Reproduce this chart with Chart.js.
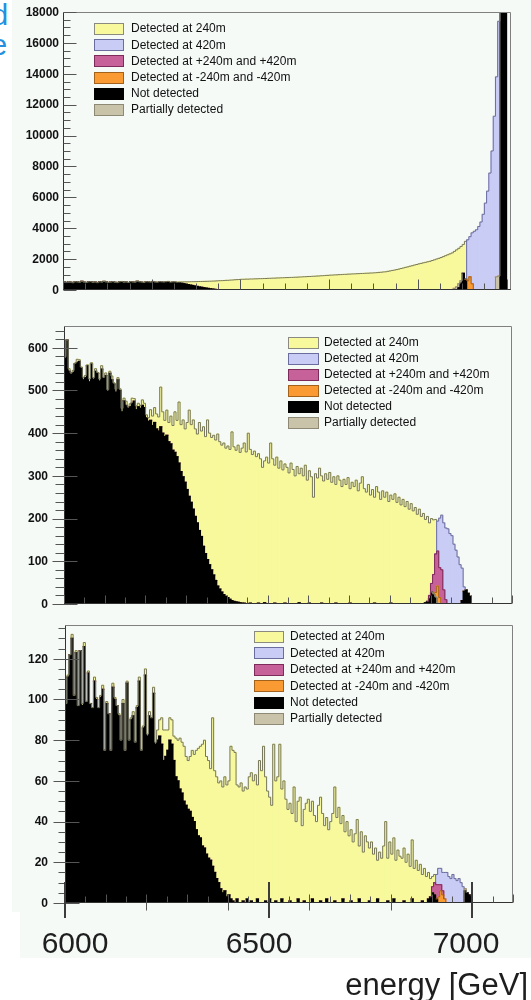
<!DOCTYPE html>
<html>
<head>
<meta charset="utf-8">
<script src="https://cdn.jsdelivr.net/npm/chart.js@4.4.1/dist/chart.umd.min.js"></script>
<style>
  html, body { margin: 0; padding: 0; background: #ffffff; }
  #page { position: relative; width: 531px; height: 1000px; overflow: hidden;
          font-family: "Liberation Sans", Arial, Helvetica, sans-serif; }
  .pad { position: absolute; background: #f5faf7; }
  .cut { position: absolute; overflow: hidden; color: #2590e0; font-size: 29px; line-height: 30px; }
  .cut span { position: absolute; top: 0; }
  canvas { position: absolute; left: 0; }
</style>
</head>
<body>
<div id="page">
  <div class="pad" style="left:12px; top:0; width:519px; height:912px;"></div>
  <div class="pad" style="left:20px; top:912px; width:511px; height:46px;"></div>
  <div class="cut" style="left:0; top:0; width:9px; height:30px;"><span style="left:-8px;">d</span></div>
  <div class="cut" style="left:0; top:30px; width:9px; height:30px;"><span style="left:-9px;">e</span></div>
  <canvas id="panelTop" width="531" height="300" style="top:0;"></canvas>
  <canvas id="panelMid" width="531" height="315" style="top:300px;"></canvas>
  <canvas id="panelLow" width="531" height="385" style="top:615px;"></canvas>
</div>
<script>
// ---------------- series (legend order) ----------------
const seriesLabels = ['Detected at 240m', 'Detected at 420m', 'Detected at +240m and +420m',
                      'Detected at -240m and -420m', 'Not detected', 'Partially detected'];
const fillColours = ['#f7f99c', '#c9ccf5', '#c7619a', '#f99a33', '#000000', '#c9c4a9'];
const lineColours = ['#77775f', '#6b6d9e', '#7d2b5a', '#a3621c', '#000000', '#8d8975'];
const stackOrder = [4, 5, 3, 2, 1, 0];   // bottom of the stack first
const BIN = 5;                          // GeV per bin

// ---------------- top panel: counts per 5 GeV bin ----------------
const p1NotDetected = [
  520, 480, 545, 500, 470, 530, 510, 495, 560, 505,
  480, 520, 540, 490, 510, 470, 525, 500, 555, 515,
  485, 505, 530, 495, 475, 520, 545, 500, 510, 480,
  530, 505, 490, 560, 515, 500, 470, 525, 510, 495,
  540, 500, 480, 520, 505, 490, 515, 530, 480, 500,
  495, 470, 470, 440, 410, 380, 350, 320, 290, 260,
  230, 200, 175, 150, 125, 100, 80, 60, 40, 25,
  10];
const p1NotDetectedPeak = [150, 450, 1080, 700];      // from 6890 GeV
const p1NotDetectedBeam = [20000, 20000, 20000];      // from 6985 GeV
const p1Det240 = [
  3, 0, 5, 2, 0, 4, 6, 0, 3, 5,
  2, 4, 0, 6, 3, 5, 2, 7, 4, 3,
  6, 2, 8, 5, 4, 6, 9, 3, 7, 5,
  10, 8, 12, 6, 14, 10, 16, 12, 18, 15,
  20, 17, 22, 19, 24, 26, 22, 28, 30, 27,
  34, 40, 50, 82, 115, 148, 180, 215, 248, 280,
  315, 350, 378, 406, 435, 465, 490, 516, 542, 565,
  590, 606, 612, 625, 628, 642, 648, 662, 670, 678,
  692, 694, 703, 702, 714, 713, 722, 724, 733, 734,
  742, 745, 754, 757, 766, 768, 778, 781, 790, 793,
  802, 805, 814, 816, 826, 829, 840, 844, 856, 860,
  872, 876, 888, 892, 904, 908, 922, 928, 942, 948,
  962, 966, 978, 982, 994, 998, 1010, 1014, 1026, 1030,
  1042, 1045, 1056, 1059, 1070, 1073, 1084, 1087, 1098, 1101,
  1112, 1122, 1140, 1150, 1168, 1178, 1210, 1234, 1266, 1290,
  1322, 1354, 1394, 1426, 1466, 1498, 1540, 1574, 1616, 1650,
  1692, 1722, 1760, 1790, 1828, 1858, 1910, 1954, 2006, 2050,
  2102, 2160, 2220, 2280, 2340, 2400, 2400, 2400, 2300, 2220,
  1870, 2450];
const p1Det420 = [2650, 2600, 3300, 3800, 3900, 4110, 4400, 4900, 5625, 6400,
                  7570, 9000, 11250, 12950, 16500];   // from 6910 GeV
const p1NegBoth = [600, 850, 400];                    // from 6910 GeV
const p1PartialLow = [100, 200, 250, 150];            // from 6880 GeV
const p1PartialHigh = [850, 900];                     // from 6975 GeV
const p1YTicks = [0, 2000, 4000, 6000, 8000, 10000, 12000, 14000, 16000, 18000];

// ---------------- middle panel ----------------
const p2NotDetected = [
  575, 618, 545, 538, 542, 562, 565, 568, 552, 525,
  530, 558, 520, 562, 526, 545, 540, 522, 550, 528,
  535, 498, 540, 525, 515, 496, 525, 500, 450, 476,
  465, 458, 462, 470, 475, 455, 462, 458, 465, 460,
  436, 428, 430, 418, 425, 410, 405, 415, 400, 392,
  395, 380, 375, 360, 355, 345, 330, 310, 298, 285,
  268, 252, 238, 222, 205, 190, 172, 158, 135, 118,
  104, 92, 80, 68, 55, 42, 35, 28, 22, 18,
  15, 11, 8, 6, 5, 4, 3, 2, 2, 1,
  0, 2, 0, 0, 0, 2, 0, 0, 3, 0,
  0, 0, 0, 2, 0, 0, 0, 0, 2, 0,
  0, 0, 0, 0, 0, 3, 0, 0, 0, 0,
  2, 0, 0, 0, 0, 0, 2, 0, 0, 0,
  0, 0, 0, 2, 0, 0, 0, 0, 0, 0,
  2, 0, 0, 0, 0, 0, 0, 0, 0, 0,
  0, 0, 2, 0, 0, 0, 0, 0, 0, 0,
  2, 0, 0, 0, 0, 0, 0, 0, 0, 0,
  0, 0, 0, 0, 0, 0, 0, 3, 6, 12,
  28, 22, 14, 0, 0, 0, 0, 0, 0, 0,
  0, 0, 0, 0, 0, 8, 30, 33, 25, 18];
const p2Det240 = [
  4, 0, 6, 3, 5, 2, 8, 4, 3, 6,
  5, 2, 7, 3, 4, 6, 2, 5, 8, 3,
  6, 4, 5, 9, 3, 7, 5, 4, 8, 6,
  10, 5, 7, 12, 6, 9, 8, 7, 13, 10,
  7, 8, 25, 22, 35, 35, 33, 93, 50, 38,
  59, 45, 65, 58, 95, 85, 143, 110, 133, 125,
  157, 202, 182, 209, 205, 208, 253, 247, 280, 274,
  327, 308, 310, 327, 329, 356, 345, 344, 355, 347,
  355, 351, 395, 362, 355, 368, 352, 363, 375, 355,
  400, 360, 350, 358, 345, 350, 340, 320, 332, 344,
  330, 377, 340, 323, 344, 318, 335, 314, 326, 320,
  307, 330, 315, 300, 322, 302, 318, 300, 325, 290,
  310, 298, 250, 305, 295, 318, 298, 288, 305, 292,
  308, 285, 298, 278, 300, 290, 275, 292, 280, 296,
  268, 285, 275, 290, 265, 283, 298, 270, 262, 280,
  255, 268, 248, 275, 262, 245, 265, 250, 262, 240,
  253, 245, 258, 238, 250, 232, 245, 228, 240, 222,
  235, 218, 226, 210, 222, 205, 212, 195, 199, 170,
  152, 128, 81];
const p2PosBoth = [8, 20, 45, 90, 82, 70, 80, 33, 10];                 // from 6895 GeV
const p2NegBoth = [10, 40, 15];                                        // from 6910 GeV
const p2Det420 = [70, 116, 128, 157, 168, 176, 165, 160, 140, 126, 110, 92, 76, 10]; // from 6915 GeV
const p2Partial = [2, 3, 2];                                           // from 6905 GeV
const p2YTicks = [0, 100, 200, 300, 400, 500, 600];

// ---------------- bottom panel ----------------
const p3NotDetected = [
  98, 111, 122, 130, 102, 123, 97, 124, 97, 126,
  99, 113, 98, 96, 109, 100, 96, 101, 105, 75,
  98, 93, 75, 106, 100, 97, 92, 80, 98, 75,
  108, 80, 90, 92, 79, 96, 109, 75, 86, 112,
  82, 92, 91, 103, 78, 80, 82, 78, 70, 72,
  75, 80, 78, 70, 62, 60, 56, 54, 50, 48,
  46, 45, 42, 40, 36, 33, 32, 28, 27, 24,
  22, 21, 18, 15, 12, 10, 7, 5, 6, 3,
  4, 2, 1, 0, 2, 0, 0, 1, 0, 2,
  0, 1, 0, 0, 2, 0, 0, 0, 1, 0,
  2, 0, 0, 1, 0, 0, 2, 0, 0, 0,
  1, 0, 0, 0, 2, 0, 0, 1, 0, 0,
  0, 2, 0, 0, 0, 1, 0, 0, 2, 0,
  0, 0, 1, 0, 0, 0, 2, 0, 0, 0,
  1, 0, 0, 0, 2, 0, 0, 0, 0, 1,
  0, 0, 0, 2, 0, 0, 0, 0, 1, 0,
  0, 2, 0, 0, 0, 0, 1, 0, 0, 0,
  2, 0, 0, 0, 0, 1, 0, 0, 2, 3,
  5, 4, 2, 0, 0, 0, 0, 0, 0, 0,
  0, 0, 0, 0, 0, 0, 6, 5, 4, 3];
const p3Det240 = [
  0, 1, 0, 2, 0, 1, 0, 0, 1, 2,
  0, 1, 0, 0, 2, 1, 0, 1, 2, 0,
  1, 0, 0, 2, 1, 0, 1, 0, 2, 0,
  1, 0, 1, 2, 0, 1, 2, 0, 1, 3,
  1, 2, 0, 3, 1, 5, 8, 13, 15, 13,
  10, 11, 12, 12, 19, 20, 25, 25, 27, 24,
  24, 27, 33, 33, 39, 43, 45, 50, 53, 48,
  48, 45, 73, 50, 50, 49, 53, 52, 56, 55,
  56, 75, 74, 74, 56, 57, 59, 54, 57, 54,
  62, 63, 60, 63, 56, 70, 65, 77, 61, 55,
  50, 48, 78, 59, 62, 78, 54, 60, 51, 46,
  48, 44, 57, 40, 48, 52, 38, 45, 49, 51,
  45, 48, 43, 40, 48, 51, 44, 38, 40, 36,
  40, 44, 56, 42, 47, 39, 41, 35, 40, 33,
  35, 30, 34, 41, 26, 35, 25, 33, 30, 26,
  30, 24, 27, 19, 25, 22, 28, 40, 21, 30,
  24, 30, 21, 26, 23, 22, 26, 20, 24, 18,
  29, 17, 21, 16, 19, 13, 17, 13, 13, 9,
  5, 4];
const p3PosBoth = [3, 6, 7, 6, 3, 2];                                  // from 6900 GeV
const p3NegBoth = [3, 6, 4, 2];                                        // from 6915 GeV
const p3Det420 = [5, 8, 8, 9, 13, 15, 13, 12, 14, 12, 11, 12, 10, 8];  // from 6910 GeV
const p3Partial = [1];                                                 // from 6980 GeV
const p3YTicks = [0, 20, 40, 60, 80, 100, 120];

// slide axis under the lower panel
const energyTicks = [6000, 6500, 7000];
const energyTickLabels = ['6000', '6500', '7000'];
const energyTitle = 'energy [GeV]';

// ---------------- building the stacked histograms ----------------
function histogram(lo, hi, series) {
  const n = Math.round((hi - lo) / BIN);
  const counts = series.map(segments => {
    const a = new Array(n).fill(0);
    segments.forEach(([from, values]) => values.forEach((v, k) => {
      const i = Math.round((from - lo) / BIN) + k;
      if (i >= 0 && i < n) a[i] = v;
    }));
    return a;
  });
  const centres = counts[0].map((_, i) => lo + (i + 0.5) * BIN);
  const edges = counts[0].map((_, i) => lo + i * BIN).concat([hi]);
  const outlines = [];
  const bars = [];
  let running = new Array(n).fill(0);
  stackOrder.forEach(s => {
    running = running.map((r, i) => r + counts[s][i]);
    const top = running;
    const own = counts[s];
    // a layer's outline is traced only where the layer itself has entries
    if (s !== 4) {
      outlines.push({
        type: 'line', yAxisID: 'yLine', label: seriesLabels[s] + ' outline',
        data: edges.map((x, i) => {
          const j = Math.min(i, n - 1);
          const near = own[j] > 0 || (i > 0 && own[i - 1] > 0) || (i + 1 < n && own[i + 1] > 0);
          return { x, y: near ? top[j] : null };
        }),
        stepped: 'before', spanGaps: false, borderColor: lineColours[s], borderWidth: 1,
        pointRadius: 0, fill: false
      });
    }
    bars.push({
      type: 'bar', yAxisID: 'y', label: seriesLabels[s], stack: 'all',
      data: centres.map((x, i) => ({ x, y: counts[s][i] })),
      backgroundColor: fillColours[s], borderWidth: 0,
      barPercentage: 1, categoryPercentage: 1, inflateAmount: 0.6
    });
  });
  // outlines first so they are painted over the fills; lowest layer's outline on top
  return outlines.concat(bars);
}

// ROOT-like frame: axes, tick marks, tick labels, legend
const rootFrame = {
  id: 'rootFrame',
  afterDatasetsDraw(chart, _args, o) {
    const { ctx, chartArea: a } = chart;
    const xs = chart.scales.x, ys = chart.scales.y;
    const L = Math.round(a.left) + 0.5, R = Math.round(a.right) - 0.5;
    const T = Math.round(a.top) + 0.5, B = Math.round(a.bottom) - 0.5;
    ctx.save();
    ctx.lineWidth = 1;
    ctx.strokeStyle = o.frameColour;
    ctx.beginPath(); ctx.moveTo(L, T); ctx.lineTo(R, T); ctx.lineTo(R, B); ctx.stroke();
    ctx.strokeStyle = o.axisColour;
    ctx.beginPath(); ctx.moveTo(L, T); ctx.lineTo(L, B); ctx.lineTo(R, B); ctx.stroke();

    // x ticks
    ctx.beginPath();
    for (let v = xs.min; v <= xs.max; v += o.xMinorStep) {
      const px = Math.round(xs.getPixelForValue(v)) + 0.5;
      const major = v % o.xMajorStep === 0;
      ctx.moveTo(px, B); ctx.lineTo(px, B - (major ? o.xMajorUp : o.xMinorUp));
      if (o.xDownStep && v % o.xDownStep === 0) { ctx.moveTo(px, B); ctx.lineTo(px, B + o.xDownLen); }
    }
    // y ticks
    for (let v = 0; v <= ys.max; v += o.yMinorStep) {
      const py = Math.round(ys.getPixelForValue(v)) + 0.5;
      const major = o.yTicks.includes(v);
      if (o.yInside) {
        ctx.moveTo(L, py); ctx.lineTo(L + (major ? o.yMajorIn : o.yMinorLen), py);
      } else if (major) {
        ctx.moveTo(L - o.yMajorOut, py); ctx.lineTo(L + o.yMajorIn, py);
      } else {
        ctx.moveTo(L - o.yMinorLen, py); ctx.lineTo(L, py);
      }
    }
    ctx.strokeStyle = o.tickColour;
    ctx.stroke();

    // y tick labels
    ctx.fillStyle = '#111111';
    ctx.font = 'bold 12px "Liberation Sans", Arial, sans-serif';
    ctx.textAlign = 'right';
    ctx.textBaseline = 'middle';
    o.yTicks.forEach(v => ctx.fillText(String(v), a.left - o.yLabelGap, ys.getPixelForValue(v) + 0.5));

    // legend
    const g = o.legend;
    ctx.font = '12px "Liberation Sans", Arial, sans-serif';
    ctx.textAlign = 'left';
    seriesLabels.forEach((label, s) => {
      const cy = g.top + s * g.step;
      const by = Math.round(cy - g.boxH / 2) + 0.5;
      ctx.fillStyle = fillColours[s];
      ctx.fillRect(g.left + 0.5, by, g.boxW, g.boxH);
      ctx.strokeStyle = s === 0 ? '#8a8a80' : lineColours[s];
      ctx.strokeRect(g.left + 0.5, by, g.boxW, g.boxH);
      ctx.fillStyle = '#111111';
      ctx.fillText(label, g.left + g.boxW + g.gap, cy + 0.5);
    });
    ctx.restore();
  }
};

// large energy axis annotation below the lower panel
const slideAxis = {
  id: 'slideAxis',
  afterDraw(chart, _args, o) {
    const { ctx, chartArea: a } = chart;
    const xs = chart.scales.x;
    ctx.save();
    ctx.strokeStyle = '#3c3c3c';
    ctx.lineWidth = 2;
    energyTicks.forEach(v => {
      const px = Math.round(xs.getPixelForValue(v));
      ctx.beginPath(); ctx.moveTo(px, a.bottom - o.up); ctx.lineTo(px, a.bottom + o.down); ctx.stroke();
    });
    ctx.fillStyle = '#1e1e1e';
    ctx.font = '30px "Liberation Sans", Arial, sans-serif';
    ctx.textAlign = 'center';
    ctx.textBaseline = 'alphabetic';
    energyTickLabels.forEach((t, i) => ctx.fillText(t, o.labelCentres[i], o.labelBaseline));
    ctx.font = '31px "Liberation Sans", Arial, sans-serif';
    ctx.textAlign = 'right';
    ctx.fillText(energyTitle, o.titleRight, o.titleBaseline);
    ctx.restore();
  }
};

function makeChart(canvasId, lo, hi, yMax, series, padding, frame, extra) {
  const plugins = [rootFrame];
  const pluginOpts = { legend: { display: false }, tooltip: { enabled: false }, rootFrame: frame };
  if (extra) { plugins.push(slideAxis); pluginOpts.slideAxis = extra; }
  return new Chart(document.getElementById(canvasId), {
    type: 'bar',
    data: { datasets: histogram(lo, hi, series) },
    options: {
      responsive: false,
      animation: false,
      devicePixelRatio: 1,
      layout: { padding },
      plugins: pluginOpts,
      scales: {
        x: { type: 'linear', min: lo, max: hi, stacked: true, offset: false, display: false },
        y: { type: 'linear', min: 0, max: yMax, stacked: true, display: false },
        yLine: { type: 'linear', min: 0, max: yMax, display: false }
      }
    },
    plugins
  });
}

makeChart('panelTop', 6000, 7010, 18000, [
    [[6000, p1Det240]],
    [[6910, p1Det420]],
    [],
    [[6910, p1NegBoth]],
    [[6000, p1NotDetected], [6890, p1NotDetectedPeak], [6985, p1NotDetectedBeam]],
    [[6880, p1PartialLow], [6975, p1PartialHigh]]
  ],
  { left: 63, right: 20, top: 12, bottom: 10 },
  { frameColour: '#808080', axisColour: '#333333', tickColour: '#555555',
    xMinorStep: 50, xMajorStep: 200, xMinorUp: 6, xMajorUp: 10,
    yTicks: p1YTicks, yMinorStep: 500, yInside: true, yMinorLen: 7, yMajorIn: 13, yLabelGap: 4,
    legend: { left: 94, top: 28.5, step: 16.2, boxW: 29, boxH: 11, gap: 8 } });

makeChart('panelMid', 6000, 7100, 651, [
    [[6000, p2Det240]],
    [[6915, p2Det420]],
    [[6895, p2PosBoth]],
    [[6910, p2NegBoth]],
    [[6000, p2NotDetected]],
    [[6905, p2Partial]]
  ],
  { left: 64, right: 19, top: 26, bottom: 11 },
  { frameColour: '#808080', axisColour: '#333333', tickColour: '#555555',
    xMinorStep: 50, xMajorStep: 100, xMinorUp: 6, xMajorUp: 8,
    yTicks: p2YTicks, yMinorStep: 20, yInside: false, yMinorLen: 9, yMajorOut: 12, yMajorIn: 13, yLabelGap: 16,
    legend: { left: 288, top: 42, step: 16.1, boxW: 30, boxH: 11, gap: 6 } });

makeChart('panelLow', 6000, 7100, 136.6, [
    [[6000, p3Det240]],
    [[6910, p3Det420]],
    [[6900, p3PosBoth]],
    [[6915, p3NegBoth]],
    [[6000, p3NotDetected]],
    [[6980, p3Partial]]
  ],
  { left: 65, right: 18, top: 10, bottom: 97 },
  { frameColour: '#808080', axisColour: '#333333', tickColour: '#555555',
    xMinorStep: 50, xMajorStep: 100, xMinorUp: 6, xMajorUp: 8, xDownStep: 200, xDownLen: 8,
    yTicks: p3YTicks, yMinorStep: 5, yInside: false, yMinorLen: 7, yMajorOut: 12, yMajorIn: 14, yLabelGap: 17,
    legend: { left: 254, top: 21.5, step: 16.4, boxW: 29, boxH: 11, gap: 7 } },
  { up: 21, down: 15, labelCentres: [75, 259, 466], labelBaseline: 338, titleRight: 528, titleBaseline: 380 });
</script>
</body>
</html>
